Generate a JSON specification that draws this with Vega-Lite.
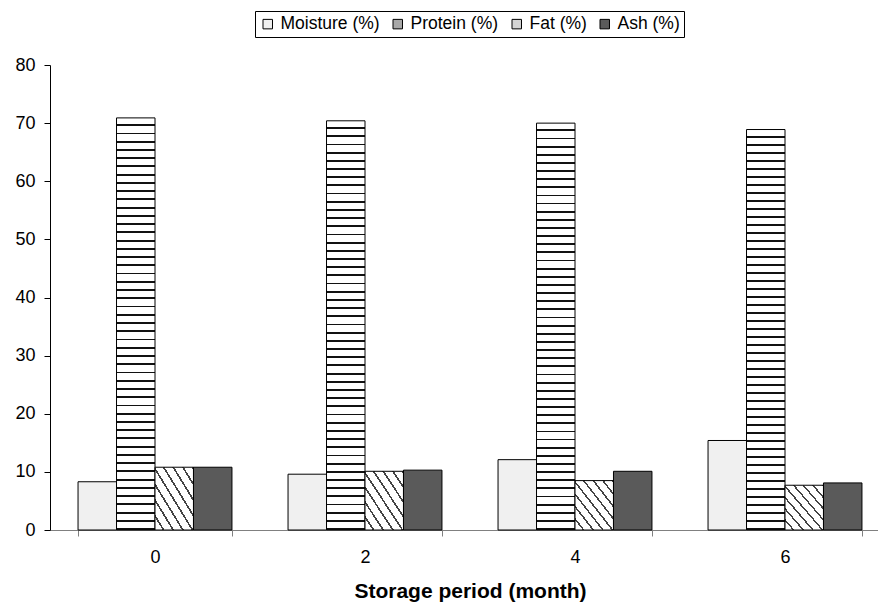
{
  "$schema": "https://vega.github.io/schema/vega-lite/v6.json",
  "width": 828,
  "height": 465,
  "autosize": "none",
  "padding": {"left": 50, "top": 65, "right": 0, "bottom": 78},
  "background": "white",
  "config": {
    "view": {"stroke": null},
    "font": "Liberation Sans",
    "axis": {"labelFont": "Liberation Sans", "titleFont": "Liberation Sans", "labelColor": "#000", "titleColor": "#000"},
    "legend": {"labelFont": "Liberation Sans"}
  },
  "data": {
    "values": [
      {"month": "0", "nutrient": "Moisture (%)", "value": 8.3},
      {"month": "0", "nutrient": "Protein (%)", "value": 70.9},
      {"month": "0", "nutrient": "Fat (%)", "value": 10.8},
      {"month": "0", "nutrient": "Ash (%)", "value": 10.8},
      {"month": "2", "nutrient": "Moisture (%)", "value": 9.6},
      {"month": "2", "nutrient": "Protein (%)", "value": 70.4},
      {"month": "2", "nutrient": "Fat (%)", "value": 10.1},
      {"month": "2", "nutrient": "Ash (%)", "value": 10.3},
      {"month": "4", "nutrient": "Moisture (%)", "value": 12.1},
      {"month": "4", "nutrient": "Protein (%)", "value": 70.0},
      {"month": "4", "nutrient": "Fat (%)", "value": 8.5},
      {"month": "4", "nutrient": "Ash (%)", "value": 10.1},
      {"month": "6", "nutrient": "Moisture (%)", "value": 15.4},
      {"month": "6", "nutrient": "Protein (%)", "value": 68.9},
      {"month": "6", "nutrient": "Fat (%)", "value": 7.7},
      {"month": "6", "nutrient": "Ash (%)", "value": 8.1}
    ]
  },
  "mark": {"type": "bar", "stroke": "#000", "strokeWidth": 1},
  "encoding": {
    "x": {
      "field": "month",
      "type": "ordinal",
      "scale": {"range": [0, 840], "paddingInner": 0.267, "paddingOuter": 0.1335},
      "axis": {
        "title": "Storage period (month)",
        "titleFontSize": 21,
        "titleFontWeight": "bold",
        "titlePadding": 14,
        "labelFontSize": 18,
        "labelAngle": 0,
        "labelPadding": 12,
        "tickBand": "extent",
        "tickSize": 6,
        "domainColor": "#808080",
        "tickColor": "#808080",
        "grid": false
      }
    },
    "xOffset": {
      "field": "nutrient",
      "type": "nominal",
      "sort": ["Moisture (%)", "Protein (%)", "Fat (%)", "Ash (%)"],
      "scale": {"paddingInner": 0, "paddingOuter": 0}
    },
    "y": {
      "field": "value",
      "type": "quantitative",
      "scale": {"domain": [0, 80], "nice": false},
      "axis": {
        "title": null,
        "values": [0, 10, 20, 30, 40, 50, 60, 70, 80],
        "labelFontSize": 18,
        "labelPadding": 9,
        "tickSize": 6,
        "domainColor": "#000",
        "tickColor": "#000",
        "grid": false
      }
    },
    "fill": {
      "field": "nutrient",
      "type": "nominal",
      "scale": {
        "domain": ["Moisture (%)", "Protein (%)", "Fat (%)", "Ash (%)"],
        "range": ["#f0f0f0", "#a8a8a8", "#d4d4d4", "#5a5a5a"]
      },
      "legend": {
        "title": null,
        "orient": "none",
        "legendX": 205,
        "legendY": -54,
        "direction": "horizontal",
        "strokeColor": "#000",
        "padding": 4,
        "symbolType": "square",
        "symbolSize": 90,
        "symbolStrokeColor": "#000",
        "symbolStrokeWidth": 1,
        "symbolOpacity": 1,
        "labelFontSize": 17.5,
        "labelColor": "#000",
        "labelOffset": 4,
        "columnPadding": 9
      },
      "condition": [
        {"test": "datum.nutrient === 'Protein (%)'", "value": {"gradient": "linear", "x1": 0, "y1": 0, "x2": 0, "y2": 1, "stops": [
            {"offset": 0, "color": "#fff"}, {"offset": 0.0155, "color": "#fff"}, {"offset": 0.0155, "color": "#111"}, {"offset": 0.02, "color": "#111"},
            {"offset": 0.02, "color": "#fff"}, {"offset": 0.0355, "color": "#fff"}, {"offset": 0.0355, "color": "#111"}, {"offset": 0.04, "color": "#111"},
            {"offset": 0.04, "color": "#fff"}, {"offset": 0.0555, "color": "#fff"}, {"offset": 0.0555, "color": "#111"}, {"offset": 0.06, "color": "#111"},
            {"offset": 0.06, "color": "#fff"}, {"offset": 0.0755, "color": "#fff"}, {"offset": 0.0755, "color": "#111"}, {"offset": 0.08, "color": "#111"},
            {"offset": 0.08, "color": "#fff"}, {"offset": 0.0955, "color": "#fff"}, {"offset": 0.0955, "color": "#111"}, {"offset": 0.10, "color": "#111"},
            {"offset": 0.10, "color": "#fff"}, {"offset": 0.1155, "color": "#fff"}, {"offset": 0.1155, "color": "#111"}, {"offset": 0.12, "color": "#111"},
            {"offset": 0.12, "color": "#fff"}, {"offset": 0.1355, "color": "#fff"}, {"offset": 0.1355, "color": "#111"}, {"offset": 0.14, "color": "#111"},
            {"offset": 0.14, "color": "#fff"}, {"offset": 0.1555, "color": "#fff"}, {"offset": 0.1555, "color": "#111"}, {"offset": 0.16, "color": "#111"},
            {"offset": 0.16, "color": "#fff"}, {"offset": 0.1755, "color": "#fff"}, {"offset": 0.1755, "color": "#111"}, {"offset": 0.18, "color": "#111"},
            {"offset": 0.18, "color": "#fff"}, {"offset": 0.1955, "color": "#fff"}, {"offset": 0.1955, "color": "#111"}, {"offset": 0.20, "color": "#111"},
            {"offset": 0.20, "color": "#fff"}, {"offset": 0.2155, "color": "#fff"}, {"offset": 0.2155, "color": "#111"}, {"offset": 0.22, "color": "#111"},
            {"offset": 0.22, "color": "#fff"}, {"offset": 0.2355, "color": "#fff"}, {"offset": 0.2355, "color": "#111"}, {"offset": 0.24, "color": "#111"},
            {"offset": 0.24, "color": "#fff"}, {"offset": 0.2555, "color": "#fff"}, {"offset": 0.2555, "color": "#111"}, {"offset": 0.26, "color": "#111"},
            {"offset": 0.26, "color": "#fff"}, {"offset": 0.2755, "color": "#fff"}, {"offset": 0.2755, "color": "#111"}, {"offset": 0.28, "color": "#111"},
            {"offset": 0.28, "color": "#fff"}, {"offset": 0.2955, "color": "#fff"}, {"offset": 0.2955, "color": "#111"}, {"offset": 0.30, "color": "#111"},
            {"offset": 0.30, "color": "#fff"}, {"offset": 0.3155, "color": "#fff"}, {"offset": 0.3155, "color": "#111"}, {"offset": 0.32, "color": "#111"},
            {"offset": 0.32, "color": "#fff"}, {"offset": 0.3355, "color": "#fff"}, {"offset": 0.3355, "color": "#111"}, {"offset": 0.34, "color": "#111"},
            {"offset": 0.34, "color": "#fff"}, {"offset": 0.3555, "color": "#fff"}, {"offset": 0.3555, "color": "#111"}, {"offset": 0.36, "color": "#111"},
            {"offset": 0.36, "color": "#fff"}, {"offset": 0.3755, "color": "#fff"}, {"offset": 0.3755, "color": "#111"}, {"offset": 0.38, "color": "#111"},
            {"offset": 0.38, "color": "#fff"}, {"offset": 0.3955, "color": "#fff"}, {"offset": 0.3955, "color": "#111"}, {"offset": 0.40, "color": "#111"},
            {"offset": 0.40, "color": "#fff"}, {"offset": 0.4155, "color": "#fff"}, {"offset": 0.4155, "color": "#111"}, {"offset": 0.42, "color": "#111"},
            {"offset": 0.42, "color": "#fff"}, {"offset": 0.4355, "color": "#fff"}, {"offset": 0.4355, "color": "#111"}, {"offset": 0.44, "color": "#111"},
            {"offset": 0.44, "color": "#fff"}, {"offset": 0.4555, "color": "#fff"}, {"offset": 0.4555, "color": "#111"}, {"offset": 0.46, "color": "#111"},
            {"offset": 0.46, "color": "#fff"}, {"offset": 0.4755, "color": "#fff"}, {"offset": 0.4755, "color": "#111"}, {"offset": 0.48, "color": "#111"},
            {"offset": 0.48, "color": "#fff"}, {"offset": 0.4955, "color": "#fff"}, {"offset": 0.4955, "color": "#111"}, {"offset": 0.50, "color": "#111"},
            {"offset": 0.50, "color": "#fff"}, {"offset": 0.5155, "color": "#fff"}, {"offset": 0.5155, "color": "#111"}, {"offset": 0.52, "color": "#111"},
            {"offset": 0.52, "color": "#fff"}, {"offset": 0.5355, "color": "#fff"}, {"offset": 0.5355, "color": "#111"}, {"offset": 0.54, "color": "#111"},
            {"offset": 0.54, "color": "#fff"}, {"offset": 0.5555, "color": "#fff"}, {"offset": 0.5555, "color": "#111"}, {"offset": 0.56, "color": "#111"},
            {"offset": 0.56, "color": "#fff"}, {"offset": 0.5755, "color": "#fff"}, {"offset": 0.5755, "color": "#111"}, {"offset": 0.58, "color": "#111"},
            {"offset": 0.58, "color": "#fff"}, {"offset": 0.5955, "color": "#fff"}, {"offset": 0.5955, "color": "#111"}, {"offset": 0.60, "color": "#111"},
            {"offset": 0.60, "color": "#fff"}, {"offset": 0.6155, "color": "#fff"}, {"offset": 0.6155, "color": "#111"}, {"offset": 0.62, "color": "#111"},
            {"offset": 0.62, "color": "#fff"}, {"offset": 0.6355, "color": "#fff"}, {"offset": 0.6355, "color": "#111"}, {"offset": 0.64, "color": "#111"},
            {"offset": 0.64, "color": "#fff"}, {"offset": 0.6555, "color": "#fff"}, {"offset": 0.6555, "color": "#111"}, {"offset": 0.66, "color": "#111"},
            {"offset": 0.66, "color": "#fff"}, {"offset": 0.6755, "color": "#fff"}, {"offset": 0.6755, "color": "#111"}, {"offset": 0.68, "color": "#111"},
            {"offset": 0.68, "color": "#fff"}, {"offset": 0.6955, "color": "#fff"}, {"offset": 0.6955, "color": "#111"}, {"offset": 0.70, "color": "#111"},
            {"offset": 0.70, "color": "#fff"}, {"offset": 0.7155, "color": "#fff"}, {"offset": 0.7155, "color": "#111"}, {"offset": 0.72, "color": "#111"},
            {"offset": 0.72, "color": "#fff"}, {"offset": 0.7355, "color": "#fff"}, {"offset": 0.7355, "color": "#111"}, {"offset": 0.74, "color": "#111"},
            {"offset": 0.74, "color": "#fff"}, {"offset": 0.7555, "color": "#fff"}, {"offset": 0.7555, "color": "#111"}, {"offset": 0.76, "color": "#111"},
            {"offset": 0.76, "color": "#fff"}, {"offset": 0.7755, "color": "#fff"}, {"offset": 0.7755, "color": "#111"}, {"offset": 0.78, "color": "#111"},
            {"offset": 0.78, "color": "#fff"}, {"offset": 0.7955, "color": "#fff"}, {"offset": 0.7955, "color": "#111"}, {"offset": 0.80, "color": "#111"},
            {"offset": 0.80, "color": "#fff"}, {"offset": 0.8155, "color": "#fff"}, {"offset": 0.8155, "color": "#111"}, {"offset": 0.82, "color": "#111"},
            {"offset": 0.82, "color": "#fff"}, {"offset": 0.8355, "color": "#fff"}, {"offset": 0.8355, "color": "#111"}, {"offset": 0.84, "color": "#111"},
            {"offset": 0.84, "color": "#fff"}, {"offset": 0.8555, "color": "#fff"}, {"offset": 0.8555, "color": "#111"}, {"offset": 0.86, "color": "#111"},
            {"offset": 0.86, "color": "#fff"}, {"offset": 0.8755, "color": "#fff"}, {"offset": 0.8755, "color": "#111"}, {"offset": 0.88, "color": "#111"},
            {"offset": 0.88, "color": "#fff"}, {"offset": 0.8955, "color": "#fff"}, {"offset": 0.8955, "color": "#111"}, {"offset": 0.90, "color": "#111"},
            {"offset": 0.90, "color": "#fff"}, {"offset": 0.9155, "color": "#fff"}, {"offset": 0.9155, "color": "#111"}, {"offset": 0.92, "color": "#111"},
            {"offset": 0.92, "color": "#fff"}, {"offset": 0.9355, "color": "#fff"}, {"offset": 0.9355, "color": "#111"}, {"offset": 0.94, "color": "#111"},
            {"offset": 0.94, "color": "#fff"}, {"offset": 0.9555, "color": "#fff"}, {"offset": 0.9555, "color": "#111"}, {"offset": 0.96, "color": "#111"},
            {"offset": 0.96, "color": "#fff"}, {"offset": 0.9755, "color": "#fff"}, {"offset": 0.9755, "color": "#111"}, {"offset": 0.98, "color": "#111"},
            {"offset": 0.98, "color": "#fff"}, {"offset": 0.9955, "color": "#fff"}, {"offset": 0.9955, "color": "#111"}, {"offset": 1, "color": "#111"}
          ]}},
        {"test": "datum.nutrient === 'Fat (%)'", "value": {"gradient": "linear", "x1": 0, "y1": 1, "x2": 1, "y2": 0, "stops": [
            {"offset": 0, "color": "#fff"}, {"offset": 0.1, "color": "#fff"}, {"offset": 0.1, "color": "#444"}, {"offset": 0.125, "color": "#444"},
            {"offset": 0.125, "color": "#fff"}, {"offset": 0.225, "color": "#fff"}, {"offset": 0.225, "color": "#444"}, {"offset": 0.25, "color": "#444"},
            {"offset": 0.25, "color": "#fff"}, {"offset": 0.35, "color": "#fff"}, {"offset": 0.35, "color": "#444"}, {"offset": 0.375, "color": "#444"},
            {"offset": 0.375, "color": "#fff"}, {"offset": 0.475, "color": "#fff"}, {"offset": 0.475, "color": "#444"}, {"offset": 0.5, "color": "#444"},
            {"offset": 0.5, "color": "#fff"}, {"offset": 0.6, "color": "#fff"}, {"offset": 0.6, "color": "#444"}, {"offset": 0.625, "color": "#444"},
            {"offset": 0.625, "color": "#fff"}, {"offset": 0.725, "color": "#fff"}, {"offset": 0.725, "color": "#444"}, {"offset": 0.75, "color": "#444"},
            {"offset": 0.75, "color": "#fff"}, {"offset": 0.85, "color": "#fff"}, {"offset": 0.85, "color": "#444"}, {"offset": 0.875, "color": "#444"},
            {"offset": 0.875, "color": "#fff"}, {"offset": 0.975, "color": "#fff"}, {"offset": 0.975, "color": "#444"}, {"offset": 1, "color": "#444"}
          ]}}
      ]
    }
  }
}
